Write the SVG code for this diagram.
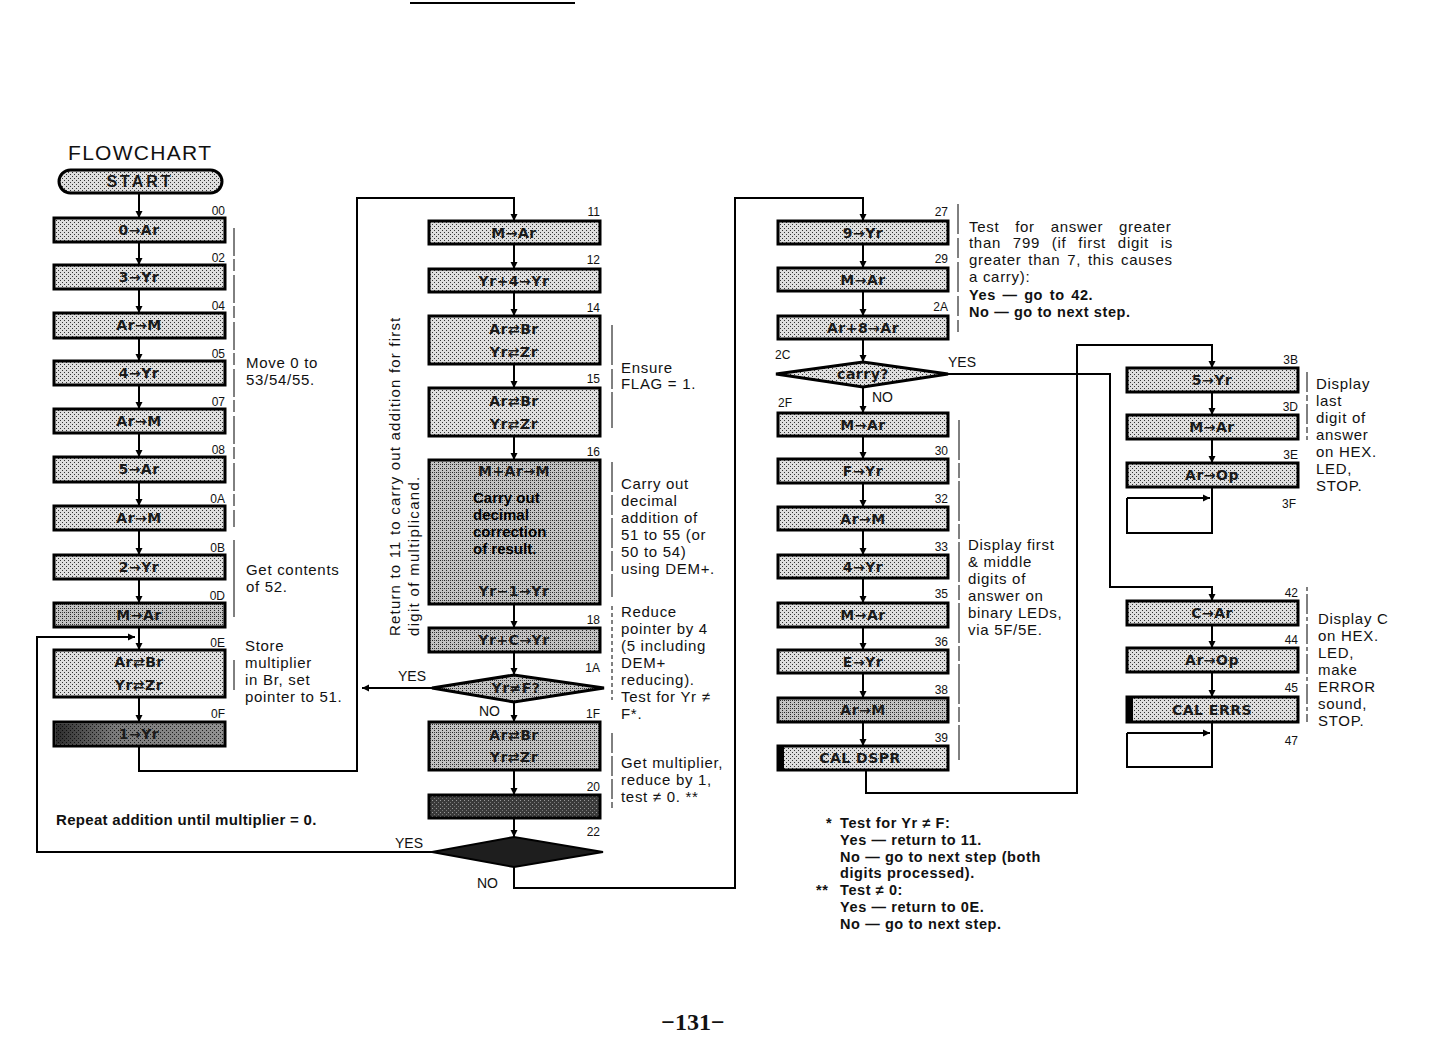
<svg xmlns="http://www.w3.org/2000/svg" width="1440" height="1056" viewBox="0 0 1440 1056">
<style>
  .bx{stroke:#000;stroke-width:3;fill:url(#dots)}
  .bxd{stroke:#000;stroke-width:3;fill:url(#dark)}
  .bxm{stroke:#000;stroke-width:3;fill:url(#dots2)}
  .t{font-family:"DejaVu Sans","Liberation Sans",sans-serif;font-size:14px;font-weight:bold;fill:#1a1a1a;text-anchor:middle;letter-spacing:0.5px}
  .lb{font-family:"Liberation Sans",sans-serif;font-size:12px;fill:#111;text-anchor:end}
  .lbs{font-family:"Liberation Sans",sans-serif;font-size:12px;fill:#111}
  .an{font-family:"Liberation Sans","DejaVu Sans",sans-serif;font-size:15px;fill:#111;letter-spacing:0.7px}
  .fn{font-family:"Liberation Sans","DejaVu Sans",sans-serif;font-size:14.5px;font-weight:bold;fill:#111;letter-spacing:0.6px}
  .yn{font-family:"Liberation Sans",sans-serif;font-size:14px;fill:#111}
  .br{stroke:#000;stroke-width:1;fill:none}
  .c{stroke:#000;stroke-width:2;fill:none}
  .ca{stroke:#000;stroke-width:2;fill:none;marker-end:url(#ah)}
</style>
<defs>
  <pattern id="dots" width="4" height="4" patternUnits="userSpaceOnUse">
    <rect width="4" height="4" fill="#dedede"/>
    <rect width="1" height="1" fill="#333"/>
    <rect x="2" y="2" width="1" height="1" fill="#333"/>
  </pattern>
  <pattern id="dots2" width="4" height="4" patternUnits="userSpaceOnUse">
    <rect width="4" height="4" fill="#c2c2c2"/>
    <rect width="1" height="1" fill="#222"/>
    <rect x="2" y="2" width="1" height="1" fill="#222"/>
    <rect x="2" y="0" width="1" height="1" fill="#444"/>
  </pattern>
  <pattern id="dark" width="4" height="4" patternUnits="userSpaceOnUse">
    <rect width="4" height="4" fill="#3a3a3a"/>
    <rect width="1" height="1" fill="#9a9a9a"/>
    <rect x="2" y="2" width="1" height="1" fill="#777"/>
  </pattern>
  <linearGradient id="shade" x1="0" y1="0" x2="1" y2="0">
    <stop offset="0" stop-color="#000" stop-opacity="0.8"/>
    <stop offset="0.35" stop-color="#000" stop-opacity="0.45"/>
    <stop offset="1" stop-color="#000" stop-opacity="0.35"/>
  </linearGradient>
  <marker id="ah" viewBox="0 0 10 10" refX="10" refY="5" markerWidth="7" markerHeight="8" orient="auto" markerUnits="userSpaceOnUse">
    <path d="M0,0 L10,5 L0,10 z" fill="#000"/>
  </marker>
</defs>
<rect width="1440" height="1056" fill="#fff"/>
<line x1="410" y1="3" x2="575" y2="3" stroke="#000" stroke-width="2"/>

<text x="68" y="160" style="font-family:'Liberation Sans',sans-serif;font-size:21px;letter-spacing:1.3px;fill:#111">FLOWCHART</text>

<!-- Connectors -->
<g id="connectors">
  <line class="ca" x1="139" y1="193" x2="139" y2="218"/>
  <line class="ca" x1="139" y1="242" x2="139" y2="265"/>
  <line class="ca" x1="139" y1="289" x2="139" y2="313"/>
  <line class="ca" x1="139" y1="338" x2="139" y2="361"/>
  <line class="ca" x1="139" y1="385" x2="139" y2="409"/>
  <line class="ca" x1="139" y1="433" x2="139" y2="457"/>
  <line class="ca" x1="139" y1="482" x2="139" y2="506"/>
  <line class="ca" x1="139" y1="530" x2="139" y2="555"/>
  <line class="ca" x1="139" y1="579" x2="139" y2="603"/>
  <line class="ca" x1="139" y1="627" x2="139" y2="650"/>
  <line class="ca" x1="139" y1="697" x2="139" y2="722"/>
  <polyline class="ca" points="139,746 139,771 357,771 357,198 514,198 514,221"/>

  <line class="ca" x1="514" y1="244" x2="514" y2="269"/>
  <line class="ca" x1="514" y1="292" x2="514" y2="316"/>
  <line class="ca" x1="514" y1="364" x2="514" y2="388"/>
  <line class="ca" x1="514" y1="436" x2="514" y2="460"/>
  <line class="ca" x1="514" y1="604" x2="514" y2="628"/>
  <line class="ca" x1="514" y1="652" x2="514" y2="675"/>
  <line class="ca" x1="432" y1="688" x2="362" y2="688"/>
  <line class="ca" x1="514" y1="702" x2="514" y2="722"/>
  <line class="ca" x1="514" y1="770" x2="514" y2="795"/>
  <line class="ca" x1="514" y1="818" x2="514" y2="837"/>
  <polyline class="ca" points="432,852 37,852 37,637 135,637"/>
  <polyline class="ca" points="514,867 514,888 735,888 735,198 863,198 863,221"/>

  <line class="ca" x1="863" y1="244" x2="863" y2="268"/>
  <line class="ca" x1="863" y1="291" x2="863" y2="316"/>
  <line class="ca" x1="863" y1="339" x2="863" y2="362"/>
  <line class="ca" x1="863" y1="387" x2="863" y2="413"/>
  <line class="ca" x1="863" y1="436" x2="863" y2="459"/>
  <line class="ca" x1="863" y1="483" x2="863" y2="507"/>
  <line class="ca" x1="863" y1="530" x2="863" y2="555"/>
  <line class="ca" x1="863" y1="578" x2="863" y2="603"/>
  <line class="ca" x1="863" y1="627" x2="863" y2="650"/>
  <line class="ca" x1="863" y1="673" x2="863" y2="698"/>
  <line class="ca" x1="863" y1="722" x2="863" y2="746"/>
  <polyline class="ca" points="866,770 866,793 1077,793 1077,345 1212,345 1212,368"/>
  <polyline class="ca" points="948,374 1110,374 1110,587 1212,587 1212,601"/>

  <line class="ca" x1="1212" y1="392" x2="1212" y2="415"/>
  <line class="ca" x1="1212" y1="439" x2="1212" y2="463"/>
  <polyline class="c" points="1212,487 1212,533 1127,533 1127,498"/>
  <line class="ca" x1="1127" y1="498" x2="1210" y2="498"/>
  <line class="ca" x1="1212" y1="625" x2="1212" y2="648"/>
  <line class="ca" x1="1212" y1="672" x2="1212" y2="697"/>
  <polyline class="c" points="1212,722 1212,767 1127,767 1127,733"/>
  <line class="ca" x1="1127" y1="733" x2="1210" y2="733"/>
</g>

<!-- Left column -->
<g id="n-start"><rect x="59" y="170" width="163" height="23" rx="11.5" class="bx"/><text x="140" y="187" class="t" style="font-family:'Liberation Sans',sans-serif;font-size:16px;letter-spacing:3px">START</text></g>
<g id="n00"><rect x="54" y="218" width="171" height="24" class="bx"/><text x="139" y="235" class="t">0→Ar</text><text x="225" y="215" class="lb">00</text></g>
<g id="n02"><rect x="54" y="265" width="171" height="24" class="bx"/><text x="139" y="282" class="t">3→Yr</text><text x="225" y="262" class="lb">02</text></g>
<g id="n04"><rect x="54" y="313" width="171" height="25" class="bx"/><text x="139" y="330" class="t">Ar→M</text><text x="225" y="310" class="lb">04</text></g>
<g id="n05"><rect x="54" y="361" width="171" height="24" class="bx"/><text x="139" y="378" class="t">4→Yr</text><text x="225" y="358" class="lb">05</text></g>
<g id="n07"><rect x="54" y="409" width="171" height="24" class="bx"/><text x="139" y="426" class="t">Ar→M</text><text x="225" y="406" class="lb">07</text></g>
<g id="n08"><rect x="54" y="457" width="171" height="25" class="bx"/><text x="139" y="474" class="t">5→Ar</text><text x="225" y="454" class="lb">08</text></g>
<g id="n0A"><rect x="54" y="506" width="171" height="24" class="bx"/><text x="139" y="523" class="t">Ar→M</text><text x="225" y="503" class="lb">0A</text></g>
<g id="n0B"><rect x="54" y="555" width="171" height="24" class="bx"/><text x="139" y="572" class="t">2→Yr</text><text x="225" y="552" class="lb">0B</text></g>
<g id="n0D"><rect x="54" y="603" width="171" height="24" class="bxm"/><text x="139" y="620" class="t">M→Ar</text><text x="225" y="600" class="lb">0D</text></g>
<g id="n0E"><rect x="54" y="650" width="171" height="47" class="bx"/><text x="139" y="667" class="t">Ar⇄Br</text><text x="139" y="690" class="t">Yr⇄Zr</text><text x="225" y="647" class="lb">0E</text></g>
<g id="n0F"><rect x="54" y="722" width="171" height="24" class="bx"/><rect x="55.5" y="723.5" width="168" height="21" fill="url(#shade)"/><text x="139" y="739" class="t">1→Yr</text><text x="225" y="718" class="lb">0F</text></g>

<!-- Middle column -->
<g id="n11"><rect x="429" y="221" width="171" height="23" class="bx"/><text x="514" y="238" class="t">M→Ar</text><text x="600" y="216" class="lb">11</text></g>
<g id="n12"><rect x="429" y="269" width="171" height="23" class="bx"/><text x="514" y="286" class="t">Yr+4→Yr</text><text x="600" y="264" class="lb">12</text></g>
<g id="n14"><rect x="429" y="316" width="171" height="48" class="bx"/><text x="514" y="334" class="t">Ar⇄Br</text><text x="514" y="357" class="t">Yr⇄Zr</text><text x="600" y="312" class="lb">14</text></g>
<g id="n15"><rect x="429" y="388" width="171" height="48" class="bx"/><text x="514" y="406" class="t">Ar⇄Br</text><text x="514" y="429" class="t">Yr⇄Zr</text><text x="600" y="383" class="lb">15</text></g>
<g id="n16"><rect x="429" y="460" width="171" height="144" class="bxm"/>
  <text x="514" y="476" class="t">M+Ar→M</text>
  <text x="473" y="503" class="t" style="font-family:'Liberation Sans',sans-serif;font-size:15px;text-anchor:start;fill:#000;letter-spacing:0">Carry out</text>
  <text x="473" y="520" class="t" style="font-family:'Liberation Sans',sans-serif;font-size:15px;text-anchor:start;fill:#000;letter-spacing:0">decimal</text>
  <text x="473" y="537" class="t" style="font-family:'Liberation Sans',sans-serif;font-size:15px;text-anchor:start;fill:#000;letter-spacing:0">correction</text>
  <text x="473" y="554" class="t" style="font-family:'Liberation Sans',sans-serif;font-size:15px;text-anchor:start;fill:#000;letter-spacing:0">of result.</text>
  <text x="514" y="596" class="t">Yr−1→Yr</text>
  <text x="600" y="456" class="lb">16</text></g>
<g id="n18"><rect x="429" y="628" width="171" height="24" class="bxm"/><text x="514" y="645" class="t">Yr+C→Yr</text><text x="600" y="624" class="lb">18</text></g>
<g id="n1A"><polygon points="432,688 514,675 604,688 514,702" class="bxm"/><text x="516" y="693" class="t">Yr≠F?</text><text x="600" y="672" class="lb">1A</text></g>
<g id="n1F"><rect x="429" y="722" width="171" height="48" class="bxm"/><text x="514" y="740" class="t">Ar⇄Br</text><text x="514" y="762" class="t">Yr⇄Zr</text><text x="600" y="718" class="lb">1F</text></g>
<g id="n20"><rect x="429" y="795" width="171" height="23" class="bxd"/><text x="600" y="791" class="lb">20</text></g>
<g id="n22"><polygon points="432,852 514,837 603,852 514,867" fill="#1e1e1e" stroke="#000" stroke-width="2"/><text x="600" y="836" class="lb">22</text></g>

<!-- Right column -->
<g id="n27"><rect x="778" y="221" width="170" height="23" class="bx"/><text x="863" y="238" class="t">9→Yr</text><text x="948" y="216" class="lb">27</text></g>
<g id="n29"><rect x="778" y="268" width="170" height="23" class="bx"/><text x="863" y="285" class="t">M→Ar</text><text x="948" y="263" class="lb">29</text></g>
<g id="n2A"><rect x="778" y="316" width="170" height="23" class="bx"/><text x="863" y="333" class="t">Ar+8→Ar</text><text x="948" y="311" class="lb">2A</text></g>
<g id="n2C"><polygon points="776,374 863,362 948,374 863,387" class="bx"/><text x="863" y="379" class="t">carry?</text><text x="775" y="359" class="lbs">2C</text></g>
<g id="n2F"><rect x="778" y="413" width="170" height="23" class="bx"/><text x="863" y="430" class="t">M→Ar</text><text x="778" y="407" class="lbs">2F</text></g>
<g id="n30"><rect x="778" y="459" width="170" height="24" class="bx"/><text x="863" y="476" class="t">F→Yr</text><text x="948" y="455" class="lb">30</text></g>
<g id="n32"><rect x="778" y="507" width="170" height="23" class="bx"/><text x="863" y="524" class="t">Ar→M</text><text x="948" y="503" class="lb">32</text></g>
<g id="n33"><rect x="778" y="555" width="170" height="23" class="bx"/><text x="863" y="572" class="t">4→Yr</text><text x="948" y="551" class="lb">33</text></g>
<g id="n35"><rect x="778" y="603" width="170" height="24" class="bx"/><text x="863" y="620" class="t">M→Ar</text><text x="948" y="598" class="lb">35</text></g>
<g id="n36"><rect x="778" y="650" width="170" height="23" class="bx"/><text x="863" y="667" class="t">E→Yr</text><text x="948" y="646" class="lb">36</text></g>
<g id="n38"><rect x="778" y="698" width="170" height="24" class="bxm"/><text x="863" y="715" class="t">Ar→M</text><text x="948" y="694" class="lb">38</text></g>
<g id="n39"><rect x="778" y="746" width="170" height="24" class="bx"/><rect x="779" y="747" width="5" height="22" fill="#000"/><text x="860" y="763" class="t">CAL DSPR</text><text x="948" y="742" class="lb">39</text></g>

<!-- Far right column -->
<g id="n3B"><rect x="1127" y="368" width="171" height="24" class="bx"/><text x="1212" y="385" class="t">5→Yr</text><text x="1298" y="364" class="lb">3B</text></g>
<g id="n3D"><rect x="1127" y="415" width="171" height="24" class="bx"/><text x="1212" y="432" class="t">M→Ar</text><text x="1298" y="411" class="lb">3D</text></g>
<g id="n3E"><rect x="1127" y="463" width="171" height="24" class="bx"/><text x="1212" y="480" class="t">Ar→Op</text><text x="1298" y="459" class="lb">3E</text><text x="1296" y="508" class="lb">3F</text></g>
<g id="n42"><rect x="1127" y="601" width="171" height="24" class="bx"/><text x="1212" y="618" class="t">C→Ar</text><text x="1298" y="597" class="lb">42</text></g>
<g id="n44"><rect x="1127" y="648" width="171" height="24" class="bx"/><text x="1212" y="665" class="t">Ar→Op</text><text x="1298" y="644" class="lb">44</text></g>
<g id="n45"><rect x="1127" y="697" width="171" height="25" class="bx"/><rect x="1128" y="698" width="5" height="23" fill="#000"/><text x="1212" y="715" class="t">CAL ERRS</text><text x="1298" y="692" class="lb">45</text><text x="1298" y="745" class="lb">47</text></g>

<!-- YES/NO labels -->
<g id="decision-labels">
  <text x="398" y="681" class="yn">YES</text>
  <text x="479" y="716" class="yn">NO</text>
  <text x="395" y="848" class="yn">YES</text>
  <text x="477" y="888" class="yn">NO</text>
  <text x="948" y="367" class="yn">YES</text>
  <text x="872" y="402" class="yn">NO</text>
</g>

<!-- Annotations -->
<g id="brackets">
  <line class="br" x1="234" y1="228" x2="234" y2="527" stroke-dasharray="28 3 12 4"/>
  <line class="br" x1="234" y1="540" x2="234" y2="617"/>
  <line class="br" x1="234" y1="660" x2="234" y2="690"/>
  <line class="br" x1="612" y1="325" x2="612" y2="428" stroke-dasharray="40 4 20 3"/>
  <line class="br" x1="612" y1="462" x2="612" y2="597" stroke-dasharray="30 3 20 3"/>
  <line class="br" x1="612" y1="606" x2="612" y2="700" stroke-dasharray="4 3"/>
  <line class="br" x1="612" y1="733" x2="612" y2="808" stroke-dasharray="20 3"/>
  <line class="br" x1="958" y1="204" x2="958" y2="332" stroke-dasharray="30 4 20 4"/>
  <line class="br" x1="959" y1="420" x2="959" y2="760" stroke-dasharray="40 3 15 3"/>
  <line class="br" x1="1307" y1="372" x2="1307" y2="440" stroke-dasharray="20 3 6 3"/>
  <line class="br" x1="1307" y1="587" x2="1307" y2="722" stroke-dasharray="4 3 20 3"/>
</g>
<g id="notes">
  <text class="an" x="246" y="368">Move 0 to</text>
  <text class="an" x="246" y="385">53/54/55.</text>
  <text class="an" x="246" y="575">Get contents</text>
  <text class="an" x="246" y="592">of 52.</text>
  <text class="an" x="245" y="651">Store</text>
  <text class="an" x="245" y="668">multiplier</text>
  <text class="an" x="245" y="685">in Br, set</text>
  <text class="an" x="245" y="702">pointer to 51.</text>
  <text class="fn" x="56" y="825" style="font-size:15px;letter-spacing:0.3px">Repeat addition until multiplier = 0.</text>

  <text class="an" transform="translate(400,636) rotate(-90)" textLength="319" lengthAdjust="spacing">Return to 11 to carry out addition for first</text>
  <text class="an" transform="translate(419,636) rotate(-90)" textLength="160" lengthAdjust="spacing">digit of multiplicand.</text>

  <text class="an" x="621" y="373">Ensure</text>
  <text class="an" x="621" y="389">FLAG = 1.</text>
  <text class="an" x="621" y="489">Carry out</text>
  <text class="an" x="621" y="506">decimal</text>
  <text class="an" x="621" y="523">addition of</text>
  <text class="an" x="621" y="540">51 to 55 (or</text>
  <text class="an" x="621" y="557">50 to 54)</text>
  <text class="an" x="621" y="574">using DEM+.</text>
  <text class="an" x="621" y="617">Reduce</text>
  <text class="an" x="621" y="634">pointer by 4</text>
  <text class="an" x="621" y="651">(5 including</text>
  <text class="an" x="621" y="668">DEM+</text>
  <text class="an" x="621" y="685">reducing).</text>
  <text class="an" x="621" y="702">Test for Yr ≠</text>
  <text class="an" x="621" y="719">F*.</text>
  <text class="an" x="621" y="768">Get multiplier,</text>
  <text class="an" x="621" y="785">reduce by 1,</text>
  <text class="an" x="621" y="802">test ≠ 0.    **</text>

  <text class="an" x="969" y="232" style="word-spacing:11px">Test for answer greater</text>
  <text class="an" x="969" y="248" style="word-spacing:7px">than 799 (if first digit is</text>
  <text class="an" x="969" y="265" style="word-spacing:2px">greater than 7, this causes</text>
  <text class="an" x="969" y="282">a carry):</text>
  <text class="fn" x="969" y="300" style="word-spacing:2px">Yes — go to 42.</text>
  <text class="fn" x="969" y="317">No — go to next step.</text>

  <text class="an" x="968" y="550">Display first</text>
  <text class="an" x="968" y="567">&amp; middle</text>
  <text class="an" x="968" y="584">digits of</text>
  <text class="an" x="968" y="601">answer on</text>
  <text class="an" x="968" y="618">binary LEDs,</text>
  <text class="an" x="968" y="635">via 5F/5E.</text>

  <text class="an" x="1316" y="389">Display</text>
  <text class="an" x="1316" y="406">last</text>
  <text class="an" x="1316" y="423">digit of</text>
  <text class="an" x="1316" y="440">answer</text>
  <text class="an" x="1316" y="457">on HEX.</text>
  <text class="an" x="1316" y="474">LED,</text>
  <text class="an" x="1316" y="491">STOP.</text>

  <text class="an" x="1318" y="624">Display C</text>
  <text class="an" x="1318" y="641">on HEX.</text>
  <text class="an" x="1318" y="658">LED,</text>
  <text class="an" x="1318" y="675">make</text>
  <text class="an" x="1318" y="692">ERROR</text>
  <text class="an" x="1318" y="709">sound,</text>
  <text class="an" x="1318" y="726">STOP.</text>

  <text class="fn" x="826" y="828">*</text>
  <text class="fn" x="840" y="828">Test for Yr ≠ F:</text>
  <text class="fn" x="840" y="845">Yes — return to 11.</text>
  <text class="fn" x="840" y="862">No — go to next step (both</text>
  <text class="fn" x="840" y="878">digits processed).</text>
  <text class="fn" x="816" y="895">**</text>
  <text class="fn" x="840" y="895">Test ≠ 0:</text>
  <text class="fn" x="840" y="912">Yes — return to 0E.</text>
  <text class="fn" x="840" y="929">No — go to next step.</text>
</g>

<text x="693" y="1030" style="font-family:'Liberation Serif',serif;font-size:24px;font-weight:bold;fill:#111;text-anchor:middle">−131−</text>
</svg>
